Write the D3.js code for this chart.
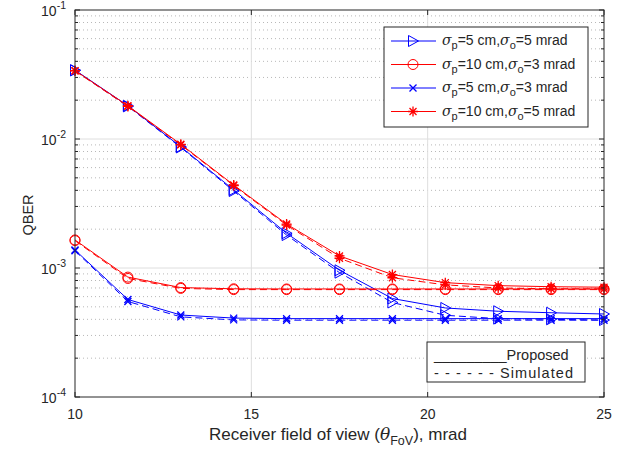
<!DOCTYPE html>
<html>
<head>
<meta charset="utf-8">
<script src="https://cdn.jsdelivr.net/npm/d3@7"></script>
<style>
  body { margin: 0; background: #fff; }
  text { font-family: "Liberation Sans", Arial, sans-serif; fill: #262626; }
</style>
</head>
<body>
<div id="chart"></div>
<script>
// receiver field of view, mrad
const fov = [10, 11.5, 13, 14.5, 16, 17.5, 19, 20.5, 22, 23.5, 25];

// proposed (solid) and simulated (dashed) QBER per case
const tri5_5Prop = [0.0342, 0.0181, 0.0087, 0.00403, 0.00186, 0.00096, 0.00058, 0.00049, 0.000462, 0.00045, 0.00044];
const tri5_5Sim  = [0.0340, 0.0179, 0.0086, 0.00395, 0.00180, 0.00092, 0.00054, 0.00043, 0.000405, 0.0004, 0.000395];
const circ10_3Prop = [0.00165, 0.00085, 0.000705, 0.00069, 0.000688, 0.000688, 0.000688, 0.000688, 0.000688, 0.000688, 0.000688];
const circ10_3Sim  = [0.00163, 0.00083, 0.000695, 0.00068, 0.00068, 0.00068, 0.00068, 0.00068, 0.00068, 0.00068, 0.00068];
const x5_3Prop = [0.00138, 0.00057, 0.000432, 0.000409, 0.000405, 0.000405, 0.000405, 0.000405, 0.000405, 0.000405, 0.000405];
const x5_3Sim  = [0.00136, 0.00055, 0.000418, 0.000396, 0.000394, 0.000394, 0.000394, 0.000394, 0.000394, 0.000394, 0.000394];
const star10_5Prop = [0.0339, 0.0181, 0.0091, 0.0044, 0.00219, 0.00124, 0.00089, 0.00077, 0.00073, 0.000716, 0.00071];
const star10_5Sim  = [0.0337, 0.0179, 0.0090, 0.00435, 0.00215, 0.00119, 0.00084, 0.00074, 0.00070, 0.00069, 0.000688];

const yTicks = [1e-4, 1e-3, 1e-2, 1e-1];
const xTicks = [10, 15, 20, 25];

const series = [
  { name: ["5", "5"], color: "#0000ff", marker: "tri", prop: tri5_5Prop, sim: tri5_5Sim },
  { name: ["10", "3"], color: "#ff0000", marker: "circle", prop: circ10_3Prop, sim: circ10_3Sim },
  { name: ["5", "3"], color: "#0000ff", marker: "x", prop: x5_3Prop, sim: x5_3Sim },
  { name: ["10", "5"], color: "#ff0000", marker: "star", prop: star10_5Prop, sim: star10_5Sim }
];

const width = 625, height = 449;
const mLeft = 75, mRight = 604, mTop = 10, mBottom = 397;

const svg = d3.select("#chart").append("svg")
  .attr("width", width)
  .attr("height", height);

const x = d3.scaleLinear().domain([10, 25]).range([mLeft, mRight]);
const y = d3.scaleLog().domain([1e-4, 1e-1]).range([mBottom, mTop]);

// minor log values
const minor = [];
for (let e = -4; e < -1; e++) {
  for (let m = 2; m <= 9; m++) minor.push(m * Math.pow(10, e));
}

// grid
const grid = svg.append("g");
grid.selectAll("line.minor").data(minor).join("line")
  .attr("class", "minor")
  .attr("x1", mLeft).attr("x2", mRight)
  .attr("y1", d => y(d)).attr("y2", d => y(d))
  .attr("stroke", "#b8b8b8").attr("stroke-width", 1)
  .attr("stroke-dasharray", "1,3");
grid.selectAll("line.hmaj").data(yTicks.slice(1, -1)).join("line")
  .attr("class", "hmaj")
  .attr("x1", mLeft).attr("x2", mRight)
  .attr("y1", d => y(d)).attr("y2", d => y(d))
  .attr("stroke", "#dedede");
grid.selectAll("line.vmaj").data(xTicks.slice(1, -1)).join("line")
  .attr("class", "vmaj")
  .attr("y1", mTop).attr("y2", mBottom)
  .attr("x1", d => x(d)).attr("x2", d => x(d))
  .attr("stroke", "#dedede");

// markers
function drawMarker(g, type, color) {
  if (type === "tri") {
    g.append("path").attr("d", "M-4.5,-5.5L5.5,0L-4.5,5.5Z")
      .attr("fill", "none").attr("stroke", color).attr("stroke-width", 1);
  } else if (type === "circle") {
    g.append("circle").attr("r", 5)
      .attr("fill", "none").attr("stroke", color).attr("stroke-width", 1);
  } else if (type === "x") {
    g.append("path").attr("d", "M-3.5,-3.5L3.5,3.5M-3.5,3.5L3.5,-3.5")
      .attr("stroke", color).attr("stroke-width", 1.3);
  } else if (type === "star") {
    g.append("path").attr("d", "M0,-5L0,5M-5,0L5,0M-3.5,-3.5L3.5,3.5M-3.5,3.5L3.5,-3.5")
      .attr("stroke", color).attr("stroke-width", 1.3);
  }
}

const line = d3.line().x(d => x(d[0])).y(d => y(d[1]));
const plot = svg.append("g");

series.forEach(s => {
  [["sim", "7,4"], ["prop", null]].forEach(([key, dash]) => {
    const pts = fov.map((f, i) => [f, s[key][i]]);
    plot.append("path")
      .attr("d", line(pts))
      .attr("fill", "none")
      .attr("stroke", s.color)
      .attr("stroke-width", 1)
      .attr("stroke-dasharray", dash);
    pts.forEach(p => {
      const g = plot.append("g").attr("transform", `translate(${x(p[0])},${y(p[1])})`);
      drawMarker(g, s.marker, s.color);
    });
  });
});

// axes box and ticks
const ax = svg.append("g").attr("stroke", "#262626").attr("stroke-width", 1);
ax.append("rect").attr("x", mLeft).attr("y", mTop)
  .attr("width", mRight - mLeft).attr("height", mBottom - mTop)
  .attr("fill", "none");
xTicks.forEach(t => {
  ax.append("line").attr("x1", x(t)).attr("x2", x(t)).attr("y1", mBottom).attr("y2", mBottom - 5);
  ax.append("line").attr("x1", x(t)).attr("x2", x(t)).attr("y1", mTop).attr("y2", mTop + 5);
});
yTicks.forEach(t => {
  ax.append("line").attr("x1", mLeft).attr("x2", mLeft + 5).attr("y1", y(t)).attr("y2", y(t));
  ax.append("line").attr("x1", mRight).attr("x2", mRight - 5).attr("y1", y(t)).attr("y2", y(t));
});
minor.forEach(t => {
  ax.append("line").attr("x1", mLeft).attr("x2", mLeft + 3).attr("y1", y(t)).attr("y2", y(t));
  ax.append("line").attr("x1", mRight).attr("x2", mRight - 3).attr("y1", y(t)).attr("y2", y(t));
});

// tick labels
svg.append("g").selectAll("text").data(xTicks).join("text")
  .attr("x", d => x(d)).attr("y", 419)
  .attr("text-anchor", "middle")
  .style("font-size", "14px")
  .text(d => d);

const yl = svg.append("g").selectAll("text").data(yTicks).join("text")
  .attr("x", 66).attr("y", d => y(d) + 6)
  .attr("text-anchor", "end")
  .style("font-size", "14px");
yl.append("tspan").text("10");
yl.append("tspan").attr("dy", -7).style("font-size", "10.5px")
  .text(d => "-" + Math.round(-Math.log10(d)));

// axis titles
svg.append("text")
  .attr("transform", "translate(33,215) rotate(-90)")
  .attr("text-anchor", "middle")
  .style("font-size", "14.5px")
  .text("QBER");

const xt = svg.append("text")
  .attr("x", 338).attr("y", 440)
  .attr("text-anchor", "middle")
  .style("font-size", "17px");
xt.append("tspan").text("Receiver field of view (");
xt.append("tspan").style("font-family", "'DejaVu Serif', serif").style("font-style", "italic").text("θ");
xt.append("tspan").attr("dy", 5).style("font-size", "12.5px").text("FoV");
xt.append("tspan").attr("dy", -5).text("), mrad");

// legend for cases
const leg = svg.append("g");
leg.append("rect").attr("x", 384).attr("y", 27).attr("width", 204).attr("height", 100)
  .attr("fill", "#fff").attr("stroke", "#262626");
const rowY = [41, 64.5, 88, 111.5];
series.forEach((s, i) => {
  const ly = rowY[i];
  leg.append("line").attr("x1", 391).attr("x2", 436).attr("y1", ly).attr("y2", ly)
    .attr("stroke", s.color).attr("stroke-width", 1);
  drawMarker(leg.append("g").attr("transform", `translate(413,${ly})`), s.marker, s.color);
  const t = leg.append("text").attr("x", 442).attr("y", ly + 4).style("font-size", "14px");
  t.append("tspan").style("font-family", "'DejaVu Serif', serif").style("font-style", "italic").text("σ");
  t.append("tspan").attr("dy", 4).style("font-size", "11px").text("p");
  t.append("tspan").attr("dy", -4).text(`=${s.name[0]} cm,`);
  t.append("tspan").style("font-family", "'DejaVu Serif', serif").style("font-style", "italic").text("σ");
  t.append("tspan").attr("dy", 4).style("font-size", "11px").text("o");
  t.append("tspan").attr("dy", -4).text(`=${s.name[1]} mrad`);
});

// legend for line styles
const leg2 = svg.append("g");
leg2.append("rect").attr("x", 427).attr("y", 342).attr("width", 158).attr("height", 40)
  .attr("fill", "#fff").attr("stroke", "#262626");
leg2.append("text").attr("x", 434).attr("y", 360).style("font-size", "14.5px")
  .text("_________Proposed");
leg2.append("text").attr("x", 434).attr("y", 378).style("font-size", "14.5px")
  .attr("textLength", 139).attr("lengthAdjust", "spacing")
  .text("- - - - - - Simulated");
</script>
</body>
</html>
